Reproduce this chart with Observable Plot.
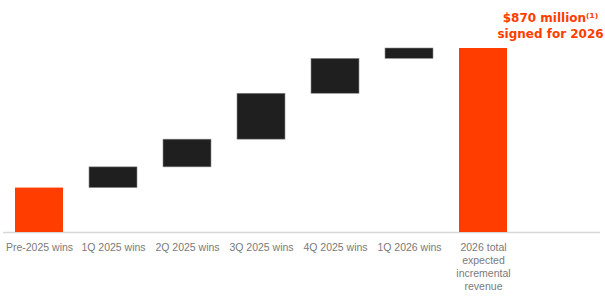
<!DOCTYPE html>
<html>
<head>
<meta charset="utf-8">
<script src="https://cdn.jsdelivr.net/npm/d3@7"></script>
<script src="https://cdn.jsdelivr.net/npm/@observablehq/plot@0.6"></script>
<style>
  body { margin: 0; background: #fff; }
  #chart { position: relative; width: 605px; height: 298px; }
</style>
</head>
<body>
<div id="chart"></div>
<script>
const categories = ["Pre-2025 wins", "1Q 2025 wins", "2Q 2025 wins", "3Q 2025 wins", "4Q 2025 wins", "1Q 2026 wins", "2026 total\nexpected\nincremental\nrevenue"];
const increments = [210, 98, 131, 217, 165, 49];
const total = 870;
const kinds = ["base", "step", "step", "step", "step", "step", "total"];
const titleLines = ["$870 million⁽¹⁾", "signed for 2026"];

const rows = [];
let cum = 0;
categories.forEach((c, i) => {
  if (kinds[i] === "total") {
    rows.push({cat: c, y1: 0, y2: total, kind: kinds[i]});
  } else {
    const v = increments[i];
    rows.push({cat: c, y1: cum, y2: cum + v, kind: kinds[i]});
    cum += v;
  }
});

const ORANGE = "#ff3d00";
const DARK = "#1f1f1f";

const chart = Plot.plot({
  width: 605,
  height: 298,
  marginTop: 48,
  marginBottom: 66,
  marginLeft: 0,
  marginRight: 0,
  style: {fontFamily: "Liberation Sans, Arial, sans-serif", background: "#fff"},
  x: {domain: categories, range: [0, 523], paddingInner: 0.35, paddingOuter: 0.2, label: null},
  y: {domain: [0, total], axis: null},
  marks: [
    Plot.ruleY([0], {stroke: "#d8d8d8", strokeWidth: 1.5, insetLeft: 3, insetRight: 5}),
    Plot.barY(rows, {
      x: "cat", y1: "y1", y2: "y2",
      fill: d => d.kind === "step" ? DARK : ORANGE,
      stroke: d => d.kind === "step" ? "#8a8a8a" : "none",
      strokeWidth: 0.6
    }),
    Plot.axisX({
      tickSize: 0, tickPadding: 9, fontSize: 10.5, lineHeight: 1.24,
      color: "#7a7a7a", label: null
    }),
    Plot.text([titleLines[0]], {
      frameAnchor: "top-left", dx: 550, dy: -35, text: d => d,
      fontSize: 12, fontWeight: "bold", fill: ORANGE, textAnchor: "middle",
      fontFamily: "DejaVu Sans, sans-serif"
    }),
    Plot.text([titleLines[1]], {
      frameAnchor: "top-left", dx: 550, dy: -19, text: d => d,
      fontSize: 12, fontWeight: "bold", fill: ORANGE, textAnchor: "middle",
      fontFamily: "DejaVu Sans, sans-serif"
    })
  ]
});
document.getElementById("chart").appendChild(chart);
</script>
</body>
</html>
